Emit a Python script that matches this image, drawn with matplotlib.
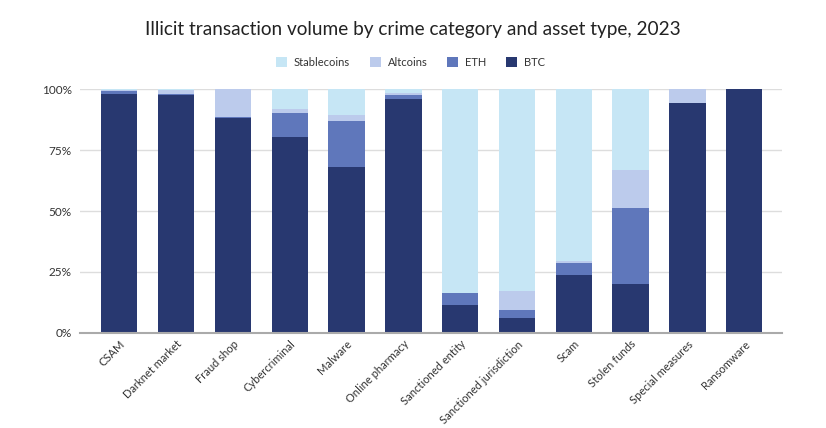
import matplotlib.pyplot as plt
import numpy as np

categories = ["CSAM", "Darknet market", "Fraud shop", "Cybercriminal", "Malware",
              "Online pharmacy", "Sanctioned entity", "Sanctioned jurisdiction",
              "Scam", "Stolen funds", "Special measures", "Ransomware"]

# shares in percent
btc = [98.0, 97.7, 88.3, 80.4, 67.9, 96.0, 11.4, 6.3, 23.8, 19.9, 94.1, 100.0]
eth = [1.0, 0.3, 0.2, 9.7, 18.8, 1.4, 4.8, 3.0, 4.8, 31.5, 0.0, 0.0]
altcoins = [0.5, 1.5, 11.5, 1.8, 2.5, 1.0, 0.3, 8.0, 1.1, 15.3, 5.9, 0.0]
stablecoins = [0.5, 0.5, 0.0, 8.1, 10.8, 1.6, 83.5, 82.7, 70.3, 33.3, 0.0, 0.0]

colors = {"BTC": "#283870", "ETH": "#5f77bb", "Altcoins": "#bccbec", "Stablecoins": "#c6e6f5"}

plt.rcParams['font.family'] = ['Lato', 'DejaVu Sans']

fig = plt.figure(figsize=(8.26, 4.28), dpi=100)
ax = fig.add_axes([0.097, 0.222, 0.85, 0.57])

x = np.arange(len(categories))
w = 0.64
bottom = np.zeros(len(categories))
handles = {}
for name, vals in [("BTC", btc), ("ETH", eth), ("Altcoins", altcoins), ("Stablecoins", stablecoins)]:
    v = np.array(vals)
    handles[name] = ax.bar(x, v, w, bottom=bottom, color=colors[name], label=name, zorder=2)
    bottom += v

ax.set_xlim(-0.69, 11.67)
ax.set_ylim(0, 100)
ax.set_yticks([0, 25, 50, 75, 100])
ax.set_yticklabels(["0%", "25%", "50%", "75%", "100%"], fontsize=8.5, color="#333333")
ax.set_xticks(x)
ax.set_xticklabels(categories, rotation=45, ha="right", rotation_mode="anchor",
                   fontsize=8, color="#333333")
ax.tick_params(axis="both", length=0, pad=6)
ax.tick_params(axis="x", pad=4)
ax.grid(axis="y", color="#dddddd", linewidth=1, zorder=0)
for s in ["top", "right", "left"]:
    ax.spines[s].set_visible(False)
ax.spines["bottom"].set_color("#aaaaaa")
ax.spines["bottom"].set_linewidth(1.5)
ax.spines["bottom"].set_zorder(3)

fig.text(0.5, 0.93, "Illicit transaction volume by crime category and asset type, 2023",
         ha="center", va="center", fontsize=13.7, color="#222222")

order = ["Stablecoins", "Altcoins", "ETH", "BTC"]
fig.legend([handles[n] for n in order], order, loc="center", bbox_to_anchor=(0.497, 0.855),
           ncol=4, frameon=False, fontsize=8, handlelength=1.0, handleheight=1.0,
           columnspacing=1.8, handletextpad=0.6, labelcolor="#333333")

fig.savefig("out.png", dpi=100, facecolor="white")
